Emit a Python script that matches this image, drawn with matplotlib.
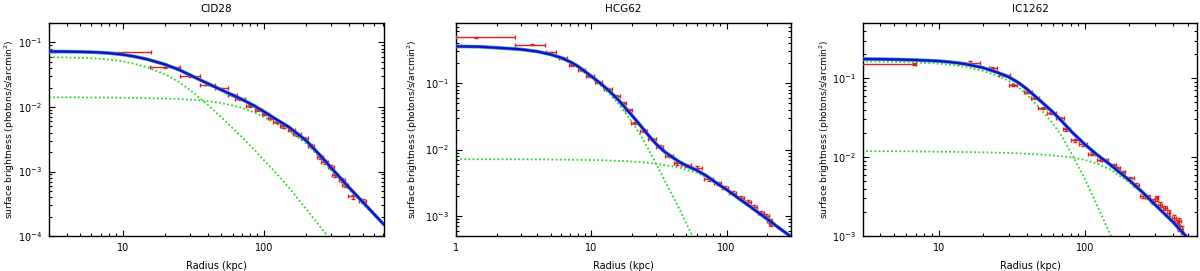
import matplotlib
matplotlib.use("Agg")
import matplotlib.pyplot as plt
from matplotlib.ticker import LogLocator, FuncFormatter, NullFormatter

# ---------------- data: CID28 ----------------
cid_r = [7.0, 20, 30, 40, 50, 60, 68, 80, 91, 102, 112, 123, 136, 156, 172, 193, 216,
         250, 270, 300, 320, 357, 378, 425, 500]
cid_r_lo = [2.0, 15.5, 25.3, 35, 45, 55.6, 62, 75, 86, 97, 107, 117, 130, 148, 162, 182, 205,
            237, 255, 285, 305, 340, 360, 395, 470]
cid_r_hi = [15.8, 25.3, 35.5, 45, 55.6, 65, 74, 86, 97, 107, 117, 130, 143, 165, 182, 205, 228,
            263, 285, 315, 335, 375, 395, 455, 530]
cid_sb = [0.070, 0.041, 0.030, 0.0223, 0.0194, 0.0155, 0.0133, 0.0104, 0.0090, 0.0077, 0.0068,
          0.0058, 0.0050, 0.0044, 0.0038, 0.0033, 0.0025, 0.00167, 0.0014, 0.00117, 0.00087,
          0.00074, 0.00062, 0.00041, 0.00035]
cid_rel_err = [0.02, 0.03, 0.03, 0.03, 0.03, 0.03, 0.03, 0.04, 0.04, 0.04, 0.04, 0.04, 0.04, 0.05,
               0.05, 0.05, 0.05, 0.05, 0.06, 0.06, 0.06, 0.06, 0.07, 0.07, 0.08]
cid_model_r = [3, 4, 5, 6, 7, 8, 10, 12, 15, 20, 25, 30, 35, 40, 50, 60, 70, 85, 100, 120, 150,
               200, 250, 300, 400, 500, 710]
cid_comp1 = [0.059, 0.0585, 0.0578, 0.0568, 0.0557, 0.0543, 0.0510, 0.0470, 0.0410, 0.0320,
             0.0245, 0.0183, 0.0138, 0.0108, 0.0069, 0.0047, 0.0034, 0.0022, 0.0015, 0.00098,
             0.00057, 0.00026, 0.00014, 0.000085, 0.00004, 0.00002, 0.000007]
cid_comp2 = [0.0141, 0.0141, 0.0141, 0.0140, 0.0140, 0.0140, 0.0139, 0.0138, 0.0137, 0.0135,
             0.0133, 0.0130, 0.0127, 0.0123, 0.0115, 0.0106, 0.0097, 0.0083, 0.0070, 0.0056,
             0.0043, 0.0027, 0.00165, 0.00105, 0.00053, 0.00032, 0.00015]
cid_total = [0.0725, 0.0722, 0.0716, 0.0708, 0.0697, 0.0683, 0.0649, 0.0608, 0.0547, 0.0455,
             0.0378, 0.0313, 0.0265, 0.0231, 0.0184, 0.0153, 0.0131, 0.0105, 0.0085, 0.0066,
             0.0049, 0.0030, 0.00179, 0.00114, 0.00057, 0.00034, 0.00015]

# ---------------- data: HCG62 ----------------
hcg_r = [1.4, 3.65, 5.05, 6.14, 7.26, 8.48, 9.7, 11.3, 13.3, 15.3, 17.1, 18.9, 20.9, 24.4, 28.0,
         32.0, 37.5, 43.3, 50, 61, 73.6, 86, 97, 111, 128, 144, 161, 180, 196, 208, 214]
hcg_r_lo = [1.0, 2.73, 4.64, 5.75, 6.85, 7.95, 9.1, 10.6, 12.5, 14.4, 16.2, 17.9, 19.8, 22.8, 26.2,
            30.2, 35.3, 41, 46, 56.5, 68.5, 81.5, 92, 105, 121, 137, 153, 171, 187, 199, 205]
hcg_r_hi = [2.73, 4.56, 5.5, 6.6, 7.7, 9.05, 10.4, 12.1, 14.2, 16.3, 18.1, 20, 22, 26, 30,
            34, 40, 46, 55, 66, 79, 90.5, 102, 117, 135, 152, 169, 189, 205, 217, 223]
hcg_sb = [0.487, 0.378, 0.29, 0.238, 0.185, 0.158, 0.129, 0.105, 0.081, 0.065, 0.050, 0.0387,
          0.025, 0.0193, 0.0144, 0.0110, 0.0080, 0.0062, 0.0058, 0.0053, 0.0036, 0.0031, 0.00267,
          0.00224, 0.00189, 0.00162, 0.00138, 0.00112, 0.0010, 0.00084, 0.00077]
hcg_rel_err = [0.01, 0.02, 0.02, 0.02, 0.03, 0.03, 0.03, 0.03, 0.03, 0.03, 0.04, 0.04, 0.04, 0.04,
               0.04, 0.05, 0.05, 0.05, 0.05, 0.05, 0.05, 0.05, 0.05, 0.05, 0.06, 0.06, 0.06, 0.07,
               0.07, 0.08, 0.08]
hcg_model_r = [1, 1.5, 2, 3, 4, 5, 6, 7, 8, 10, 12, 14, 16, 18, 20, 23, 26, 30, 35, 40, 45, 50,
               56, 60, 70, 85, 100, 125, 150, 200, 250, 300]
hcg_comp1 = [0.350, 0.345, 0.333, 0.315, 0.291, 0.263, 0.233, 0.201, 0.171, 0.120, 0.088, 0.065,
             0.048, 0.035, 0.026, 0.0168, 0.0108, 0.0062, 0.0034, 0.0020, 0.00125, 0.00080,
             0.00050, 0.00038, 0.00020, 0.000085, 0.00004, 0.000015, 0.000007, 0.000002,
             0.000001, 0.0000005]
hcg_comp2 = [0.00715, 0.00715, 0.00714, 0.00712, 0.0071, 0.00708, 0.00705, 0.00702, 0.0070,
             0.00695, 0.0069, 0.00683, 0.00676, 0.00668, 0.0066, 0.00647, 0.00633, 0.0061,
             0.0058, 0.0056, 0.0053, 0.0050, 0.0047, 0.0045, 0.0039, 0.0031, 0.0025, 0.0018,
             0.00138, 0.0009, 0.00064, 0.00049]
hcg_total = [0.357, 0.352, 0.340, 0.322, 0.298, 0.270, 0.240, 0.208, 0.178, 0.127, 0.0949,
             0.0718, 0.0548, 0.0417, 0.0326, 0.0233, 0.0171, 0.0123, 0.0092, 0.0076, 0.0065,
             0.0058, 0.0052, 0.0049, 0.0041, 0.0031, 0.0025, 0.0018, 0.00138, 0.0009, 0.00064,
             0.00049]

# ---------------- data: IC1262 ----------------
ic_r = [6.75, 16.5, 23.1, 27.8, 32.0, 40.6, 45.3, 51.2, 58.9, 67.1, 74.6, 85.5, 96.9, 110.6, 128,
        136, 154, 166, 180, 203, 222, 247, 267, 289, 307, 326, 352, 372, 402, 421, 435, 440, 456]
ic_r_lo = [1.0, 13.7, 22.0, 25.7, 30.0, 38.0, 42.5, 48, 55, 63, 70.5, 80.5, 91, 104, 120, 130,
           147, 159, 172, 192, 212, 237, 257, 278, 298, 316, 342, 362, 390, 410, 425, 430, 446]
ic_r_hi = [7.0, 19.3, 25.0, 30.9, 34.5, 43.5, 48.5, 55, 63, 71.5, 79, 90.5, 103, 117.5, 136, 143,
           162, 174, 188, 215, 232, 257, 277, 300, 316, 336, 362, 382, 414, 432, 445, 450, 466]
ic_sb = [0.151, 0.158, 0.134, 0.111, 0.083, 0.066, 0.0557, 0.042, 0.036, 0.0312, 0.0225, 0.0164,
         0.0146, 0.0111, 0.0092, 0.0092, 0.0079, 0.0072, 0.0064, 0.0054, 0.00444, 0.00323,
         0.00311, 0.00274, 0.0030, 0.0025, 0.00227, 0.00196, 0.0017, 0.00147, 0.00127, 0.00155,
         0.00121]
ic_rel_err = [0.04, 0.04, 0.03, 0.03, 0.03, 0.03, 0.03, 0.03, 0.03, 0.03, 0.04, 0.04, 0.04, 0.04,
              0.04, 0.04, 0.04, 0.05, 0.05, 0.05, 0.05, 0.06, 0.06, 0.06, 0.06, 0.07, 0.07, 0.08,
              0.08, 0.09, 0.10, 0.10, 0.12]
ic_model_r = [3, 4, 5, 7, 10, 12, 15, 20, 25, 30, 35, 40, 50, 60, 70, 82, 100, 120, 150, 200,
              250, 300, 400, 480, 580]
ic_comp1 = [0.163, 0.1625, 0.161, 0.158, 0.153, 0.148, 0.140, 0.124, 0.108, 0.093, 0.077, 0.062,
            0.040, 0.027, 0.0178, 0.0105, 0.0052, 0.0025, 0.0010, 0.0003, 0.00011, 0.00005,
            0.00002, 0.00001, 0.000005]
ic_comp2 = [0.0119, 0.0119, 0.0119, 0.0118, 0.0117, 0.0117, 0.0116, 0.0115, 0.0114, 0.0113,
            0.0112, 0.0110, 0.0108, 0.0105, 0.0102, 0.0099, 0.0092, 0.0083, 0.0069, 0.0048,
            0.0034, 0.0025, 0.00147, 0.00102, 0.00071]
ic_total = [0.175, 0.1744, 0.173, 0.170, 0.165, 0.160, 0.152, 0.136, 0.119, 0.104, 0.088, 0.073,
            0.0508, 0.0375, 0.028, 0.0204, 0.0144, 0.0108, 0.0079, 0.0051, 0.0035, 0.0025,
            0.00149, 0.00103, 0.00072]

panels = [
    dict(title="CID28", r=cid_r, lo=cid_r_lo, hi=cid_r_hi, sb=cid_sb, rel=cid_rel_err,
         mr=cid_model_r, c1=cid_comp1, c2=cid_comp2, tot=cid_total,
         xlim=(3, 710), ylim=(1e-4, 0.2), pos=[0.0408, 0.129, 0.2792, 0.786], ylx=-0.095),
    dict(title="HCG62", r=hcg_r, lo=hcg_r_lo, hi=hcg_r_hi, sb=hcg_sb, rel=hcg_rel_err,
         mr=hcg_model_r, c1=hcg_comp1, c2=hcg_comp2, tot=hcg_total,
         xlim=(1, 300), ylim=(5e-4, 0.8), pos=[0.380, 0.129, 0.2792, 0.786], ylx=-0.107),
    dict(title="IC1262", r=ic_r, lo=ic_r_lo, hi=ic_r_hi, sb=ic_sb, rel=ic_rel_err,
         mr=ic_model_r, c1=ic_comp1, c2=ic_comp2, tot=ic_total,
         xlim=(3.05, 580), ylim=(1e-3, 0.5), pos=[0.7192, 0.129, 0.2783, 0.786], ylx=-0.093),
]

plt.rcParams["font.family"] = ["DejaVu Sans"]
fig = plt.figure(figsize=(12, 2.71), dpi=100)

for p in panels:
    ax = fig.add_axes(p["pos"])
    ax.set_xscale("log")
    ax.set_yscale("log")
    # model components
    ax.plot(p["mr"], p["c1"], color="#22dd22", lw=1.3, ls=(0, (1, 1.3)), zorder=2)
    ax.plot(p["mr"], p["c2"], color="#22dd22", lw=1.3, ls=(0, (1, 1.3)), zorder=2)
    # data
    xerr = [[c - l for c, l in zip(p["r"], p["lo"])], [h - c for c, h in zip(p["r"], p["hi"])]]
    yerr = [s * e for s, e in zip(p["sb"], p["rel"])]
    ax.errorbar(p["r"], p["sb"], xerr=xerr, yerr=yerr, fmt="none", ecolor="#dd2020",
                elinewidth=1.0, capsize=1.6, capthick=1.0, zorder=3)
    # total model
    ax.plot(p["mr"], p["tot"], color="#3d8fd6", lw=2.6, zorder=4, solid_capstyle="round",
            solid_joinstyle="round")
    ax.plot(p["mr"], p["tot"], color="#1111c4", lw=1.6, zorder=5, solid_joinstyle="round")

    ax.set_xlim(*p["xlim"])
    ax.set_ylim(*p["ylim"])
    ax.set_title(p["title"], fontsize=7.5, pad=8)
    ax.set_xlabel("Radius (kpc)", fontsize=7, labelpad=6)
    ax.set_ylabel("surface brightness (photons/s/arcmin$^2$)", fontsize=6.6)
    ax.yaxis.set_label_coords(p["ylx"], 0.5)

    ax.xaxis.set_major_locator(LogLocator(base=10, numticks=10))
    ax.xaxis.set_minor_locator(LogLocator(base=10, subs=range(2, 10), numticks=20))
    ax.xaxis.set_major_formatter(FuncFormatter(lambda v, pos: "%g" % v))
    ax.xaxis.set_minor_formatter(NullFormatter())
    ax.yaxis.set_major_locator(LogLocator(base=10, numticks=10))
    ax.yaxis.set_minor_locator(LogLocator(base=10, subs=range(2, 10), numticks=20))
    ax.yaxis.set_minor_formatter(NullFormatter())
    ax.tick_params(which="both", direction="in", top=True, right=True, labelsize=7, width=0.8)
    ax.tick_params(which="major", length=4, pad=5)
    ax.tick_params(which="minor", length=2)
    for s in ax.spines.values():
        s.set_linewidth(1.0)

fig.savefig("out.png", dpi=100)
